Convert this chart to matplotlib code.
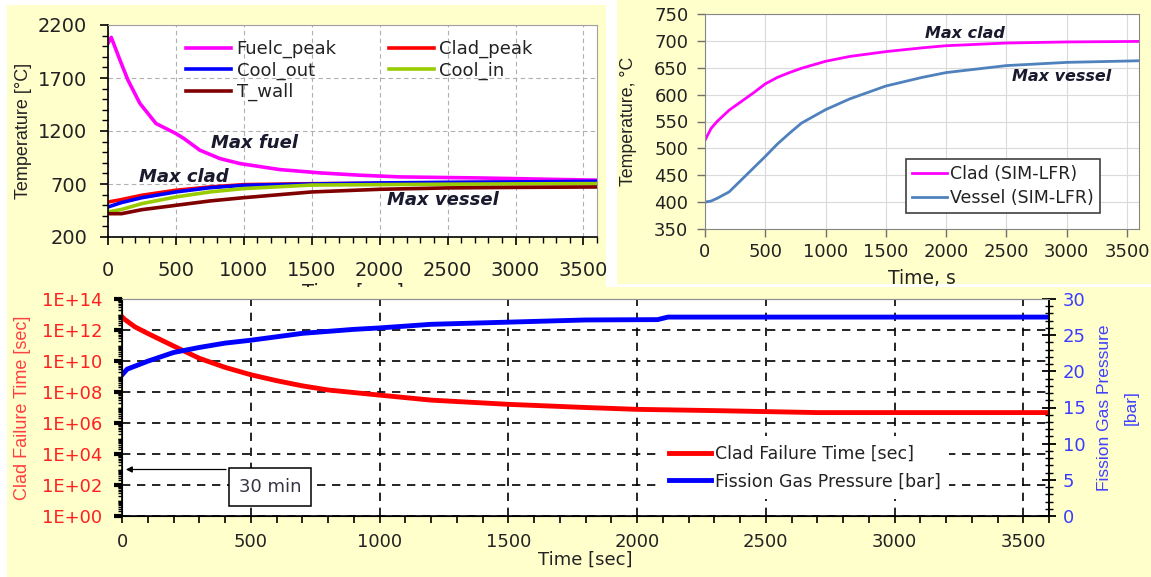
import matplotlib
matplotlib.use("Agg")
import matplotlib.pyplot as plt
from matplotlib.patches import Rectangle
from matplotlib.ticker import MultipleLocator, FixedLocator, NullFormatter, FuncFormatter
import numpy as np

plt.rcParams['font.family'] = ['DejaVu Sans']

# ---------------- data ----------------
# top-left panel
tl_time_fuel = [0, 24, 88, 147, 235, 353, 500, 559, 676, 824, 970, 1265, 1559, 1853, 2147, 2735, 3600]
fuelc_peak = [2027, 2083, 1869, 1680, 1460, 1271, 1176, 1129, 1019, 940, 893, 836, 805, 783, 767, 757, 736]
tl_time = [0, 100, 250, 500, 750, 1000, 1500, 2000, 2500, 3000, 3600]
clad_peak = [530, 553, 594, 641, 672, 694, 703, 706, 712, 716, 718]
cool_out = [483, 525, 571, 625, 665, 688, 700, 710, 716, 720, 726]
cool_in = [436, 460, 515, 578, 625, 657, 690, 694, 698, 701, 704]
t_wall = [420, 420, 458, 499, 540, 571, 625, 650, 663, 668, 672]
tl_labels = ["Fuelc_peak", "Clad_peak", "Cool_out", "Cool_in", "T_wall"]
tl_yticks = [200, 700, 1200, 1700, 2200]

# top-right panel
tr_time = [0, 50, 100, 200, 300, 400, 500, 600, 700, 800, 1000, 1200, 1500, 1800, 2000, 2500, 3000, 3600]
clad_sim = [515, 537, 550, 571, 587, 603, 620, 632, 641, 649, 662, 671, 680, 687, 691, 696, 698, 699]
vessel_sim = [400, 402, 407, 419, 441, 463, 485, 508, 528, 547, 572, 592, 616, 632, 641, 654, 660, 663]
tr_labels = ["Clad (SIM-LFR)", "Vessel (SIM-LFR)"]

# bottom panel
b_time = [0, 10, 50, 100, 200, 300, 400, 500, 600, 700, 800, 1000, 1200, 1500, 1800, 2000, 2300, 2700, 3600]
clad_failure_time = [7.2e12, 4.9e12, 1.6e12, 6.0e11, 9.3e10, 1.5e10, 3.9e9, 1.3e9, 5.4e8, 2.5e8,
                     1.35e8, 6.3e7, 3.0e7, 1.6e7, 1.0e7, 7.6e6, 6.3e6, 4.7e6, 4.7e6]
p_time = [0, 20, 100, 200, 300, 400, 500, 700, 900, 1000, 1200, 1500, 1800, 2080, 2120, 3600]
fission_gas_pressure = [19.5, 20.3, 21.4, 22.6, 23.3, 23.9, 24.3, 25.25, 25.8, 26.0, 26.5, 26.8,
                        27.1, 27.15, 27.5, 27.5]
b_labels = ["Clad Failure Time [sec]", "Fission Gas Pressure [bar]"]
thirty_min_y = 1.0e3

# ---------------- figure ----------------
W, H = 1151, 577
YEL = '#FFFFCC'
TXT = '#222222'
fig = plt.figure(figsize=(W / 100, H / 100), dpi=100, facecolor='white')


def frect(x0, y0, x1, y1, z):
    fig.add_artist(Rectangle((x0 / W, 1 - y1 / H), (x1 - x0) / W, (y1 - y0) / H,
                             transform=fig.transFigure, facecolor=YEL,
                             edgecolor='none', zorder=z))


def axrect(x0, y0, x1, y1):
    return [x0 / W, 1 - y1 / H, (x1 - x0) / W, (y1 - y0) / H]


frect(7, 5, 606, 287, -2)
frect(617, 0, 1151, 284, -2)
frect(7, 287, 1151, 577, 1)

ROT = ['Liberation Sans', 'DejaVu Sans']
ann = dict(fontweight='bold', fontstyle='italic', color='#1a1a2e')

# ---------- top-left ----------
ax1 = fig.add_axes(axrect(108, 25, 597, 237))
ax1.set_zorder(0)
ax1.set_facecolor('white')
c1 = ['#FF00FF', '#FF0000', '#0000FF', '#99CC00', '#800000']
l_f, = ax1.plot(tl_time_fuel, fuelc_peak, color=c1[0], lw=2.6)
l_c, = ax1.plot(tl_time, clad_peak, color=c1[1], lw=2.6)
l_o, = ax1.plot(tl_time, cool_out, color=c1[2], lw=2.6)
l_i, = ax1.plot(tl_time, cool_in, color=c1[3], lw=2.6)
l_w, = ax1.plot(tl_time, t_wall, color=c1[4], lw=2.6)
ax1.set_xlim(0, 3600)
ax1.set_ylim(tl_yticks[0], tl_yticks[-1])
ax1.xaxis.set_major_locator(MultipleLocator(500))
ax1.xaxis.set_minor_locator(MultipleLocator(100))
ax1.yaxis.set_major_locator(FixedLocator(tl_yticks))
ax1.yaxis.set_minor_locator(MultipleLocator(100))
ax1.grid(True, which='major', color='#B0B0B0', linestyle=(0, (4, 3)), lw=0.8)
ax1.tick_params(which='both', direction='out', color='black', labelcolor=TXT)
ax1.tick_params(which='major', length=6, width=1.2, labelsize=14)
ax1.tick_params(axis='y', which='major', pad=9)
ax1.tick_params(axis='x', which='major', pad=11)
ax1.tick_params(which='minor', length=4, width=1.0)
for s in ['top', 'right']:
    ax1.spines[s].set_color('#A0A0A0')
for s in ['left', 'bottom']:
    ax1.spines[s].set_color('black')
    ax1.spines[s].set_linewidth(1.2)
ax1.set_ylabel('Temperature [°C]', family=ROT, fontsize=13, color=TXT, labelpad=4)
ax1.set_xlabel('Time [sec]', fontsize=14, color=TXT, labelpad=2)
ax1.legend([l_f, l_o, l_w, l_c, l_i],
           [tl_labels[0], tl_labels[2], tl_labels[4], tl_labels[1], tl_labels[3]],
           ncol=2, frameon=False, loc='upper left',
           bbox_to_anchor=(186 / W, 1 - 40 / H), bbox_transform=fig.transFigure,
           borderpad=0, borderaxespad=0, fontsize=13, handlelength=2.5,
           handletextpad=0.3, columnspacing=2.9, labelspacing=0.18, labelcolor=TXT)
ax1.text(1075, 1087, 'Max fuel', ha='center', va='center', fontsize=13, **ann)
ax1.text(560, 766, 'Max clad', ha='center', va='center', fontsize=13, **ann)
ax1.text(2466, 549, 'Max vessel', ha='center', va='center', fontsize=13, **ann)

# ---------- top-right ----------
ax2 = fig.add_axes(axrect(705, 14, 1139, 229))
ax2.set_zorder(0)
ax2.set_facecolor('white')
m1, = ax2.plot(tr_time, clad_sim, color='#FF00FF', lw=2.0)
m2, = ax2.plot(tr_time, vessel_sim, color='#4F81BD', lw=2.0)
ax2.set_xlim(0, 3600)
ax2.set_ylim(350, 750)
ax2.xaxis.set_major_locator(MultipleLocator(500))
ax2.yaxis.set_major_locator(MultipleLocator(50))
ax2.grid(True, color='#DADADA', lw=0.8)
ax2.tick_params(direction='out', length=6, width=1.0, color='#707070',
                labelsize=13, labelcolor=TXT)
ax2.tick_params(axis='y', pad=6)
ax2.tick_params(axis='x', pad=4)
for s in ax2.spines.values():
    s.set_color('#868686')
ax2.set_ylabel('Temperature, °C', family=ROT, fontsize=12.8, color=TXT, labelpad=12)
ax2.set_xlabel('Time, s', fontsize=13.5, color=TXT, labelpad=6)
lg2 = ax2.legend([m1, m2], tr_labels, loc='upper left',
                 bbox_to_anchor=(906 / W, 1 - 159 / H), bbox_transform=fig.transFigure,
                 borderaxespad=0, borderpad=0.35, fontsize=12.5, handlelength=2.0,
                 handletextpad=0.2, labelspacing=0.35, fancybox=False,
                 edgecolor='#404040', framealpha=1, labelcolor=TXT)
lg2.get_frame().set_linewidth(1.2)
ax2.text(2157, 714.6, 'Max clad', ha='center', va='center', fontsize=11.5, **ann)
ax2.text(2961, 634.6, 'Max vessel', ha='center', va='center', fontsize=11.5, **ann)

# ---------- bottom ----------
ax3 = fig.add_axes(axrect(122, 299, 1049, 516))
ax3.set_zorder(2)
ax3.set_facecolor('white')
r1, = ax3.plot(b_time, clad_failure_time, color='#FF0000', lw=3.5, zorder=3)
ax3.set_yscale('log')
ax3.set_xlim(0, 3600)
ax3.set_ylim(1, 1e14)
ax3.xaxis.set_major_locator(MultipleLocator(500))
ax3.xaxis.set_minor_locator(MultipleLocator(100))
even = [10.0 ** e for e in range(0, 15, 2)]
minor = [m * 10.0 ** e for e in range(0, 14) for m in range(1, 10)
         if not (m == 1 and e % 2 == 0)]
ax3.yaxis.set_major_locator(FixedLocator(even))
ax3.yaxis.set_minor_locator(FixedLocator(minor))
ax3.yaxis.set_minor_formatter(NullFormatter())
ax3.yaxis.set_major_formatter(FuncFormatter(lambda v, p: '1E+%02d' % int(round(np.log10(v)))))
ax3.grid(True, which='major', color='black', linestyle=(0, (5, 4)), lw=1.2)
ax3.tick_params(axis='x', which='both', direction='out', length=5, width=1.2,
                color='black', labelsize=13, labelcolor=TXT, pad=7)
ax3.tick_params(axis='y', which='major', direction='out', length=6, width=3,
                color='black', labelsize=13, labelcolor='#FF2020', pad=8)
ax3.tick_params(axis='y', which='minor', direction='out', length=3, width=1.0, color='black')
ax3.spines['top'].set_color('#909090')
for s in ['left', 'bottom', 'right']:
    ax3.spines[s].set_color('black')
    ax3.spines[s].set_linewidth(1.2)
ax3.set_ylabel('Clad Failure Time [sec]', family=ROT, fontsize=13, color='#FF4040', labelpad=8)
ax3.set_xlabel('Time [sec]', fontsize=13, color=TXT, labelpad=0)

ax3r = ax3.twinx()
ax3r.set_zorder(2.1)
ax3r.patch.set_visible(False)
b1, = ax3r.plot(p_time, fission_gas_pressure, color='#0000FF', lw=3.5)
ax3r.set_ylim(0, 30)
ax3r.yaxis.set_major_locator(MultipleLocator(5))
ax3r.yaxis.set_minor_locator(MultipleLocator(1))
ax3r.tick_params(axis='y', which='major', direction='inout', length=10, width=1.3,
                 color='black', labelsize=13, labelcolor='#3B3BFF', pad=5)
ax3r.tick_params(axis='y', which='minor', direction='inout', length=6, width=1.0, color='black')
ax3r.spines['right'].set_color('black')
ax3r.spines['right'].set_linewidth(1.2)
ax3r.spines['top'].set_color('#909090')
ax3r.set_ylabel('Fission Gas Pressure\n[bar]', family=ROT, fontsize=12.5, color='#4040FF',
                labelpad=8, linespacing=2.0, ha='center')

lg3 = ax3r.legend([r1, b1], b_labels, loc='center',
                  bbox_to_anchor=(805 / W, 1 - 467.5 / H), bbox_transform=fig.transFigure,
                  fontsize=12.5, handlelength=2.4, handletextpad=0.2, labelspacing=0.55,
                  frameon=True, fancybox=False, edgecolor='none', facecolor='white',
                  framealpha=1, borderpad=0.5, labelcolor=TXT)

ax3.annotate('', xy=(15, thirty_min_y), xytext=(404, thirty_min_y),
             arrowprops=dict(arrowstyle='-|>', color='black', lw=0.9, mutation_scale=9,
                             shrinkA=0, shrinkB=0), zorder=5)
ax3.text(575, 74, '30 min', ha='center', va='center', fontsize=13, color='#333344', zorder=6,
         bbox=dict(boxstyle='square,pad=0.55', facecolor='white', edgecolor='black', lw=1.1))

fig.savefig('out.png', dpi=100, facecolor='white')
